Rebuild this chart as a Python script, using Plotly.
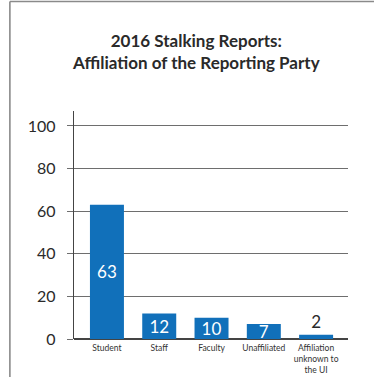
import plotly.graph_objects as go

# Stalking reports by affiliation of the reporting party (2016)
categories = ["Student", "Staff", "Faculty", "Unaffiliated", "Affiliation<br>unknown to<br>the UI"]
reports = [63, 12, 10, 7, 2]
y_ticks = [0, 20, 40, 60, 80, 100]

BLUE = "#1170BA"
TEXT = "#2A2A2A"
GRID = "#6E6E6E"

# white numbers inside the tall bars, dark number above the tiny one
text_pos = ["inside" if v >= 5 else "outside" for v in reports]
text_col = ["white" if v >= 5 else TEXT for v in reports]

fig = go.Figure(
    go.Bar(
        x=list(range(len(categories))),
        y=reports,
        width=0.65,
        marker=dict(color=BLUE, line=dict(width=0)),
        text=[str(v) for v in reports],
        textposition=text_pos,
        textangle=0,
        constraintext="none",
        insidetextanchor="middle",
        textfont=dict(family="Lato, Open Sans, sans-serif", size=17, color=text_col),
        cliponaxis=False,
        showlegend=False,
    )
)

fig.update_layout(
    width=374,
    height=377,
    margin=dict(l=74, r=26, t=111, b=38),
    paper_bgcolor="white",
    plot_bgcolor="white",
    font=dict(family="Lato, Open Sans, sans-serif", color=TEXT),
    title=dict(
        text="<b>2016 Stalking Reports:<br>Affiliation of the Reporting Party</b>",
        x=0.525,
        xanchor="center",
        y=0.875,
        yanchor="middle",
        font=dict(size=17, color=TEXT),
    ),
    uniformtext=dict(mode=False),
    bargap=0.35,
    xaxis=dict(
        range=[-0.63, 4.61],
        tickmode="array",
        tickvals=list(range(len(categories))),
        ticktext=categories,
        tickfont=dict(size=8.5, color="#333333"),
        showgrid=False,
        zeroline=False,
        showline=False,
        ticks="",
        ticklabelstandoff=2,
        automargin=False,
        fixedrange=True,
    ),
    yaxis=dict(
        range=[0, 107],
        tickmode="array",
        tickvals=y_ticks,
        tickfont=dict(size=16, color=TEXT),
        showgrid=True,
        gridcolor=GRID,
        gridwidth=1.3,
        zeroline=True,
        zerolinecolor="#444444",
        zerolinewidth=1.5,
        showline=True,
        linecolor="#444444",
        linewidth=1.3,
        ticks="outside",
        ticklen=6,
        tickcolor=GRID,
        tickwidth=1.3,
        ticklabelstandoff=8,
        automargin=False,
        fixedrange=True,
    ),
    shapes=[
        # frame around the figure (left and top edges)
        dict(type="line", xref="paper", yref="paper",
             x0=-0.234, x1=-0.234, y0=1.48, y1=-0.18,
             line=dict(color="#8A8A8A", width=1.6)),
        dict(type="line", xref="paper", yref="paper",
             x0=-0.234, x1=1.12, y0=1.48, y1=1.48,
             line=dict(color="#8A8A8A", width=1.6)),
    ],
)

fig.write_html("out.html")
